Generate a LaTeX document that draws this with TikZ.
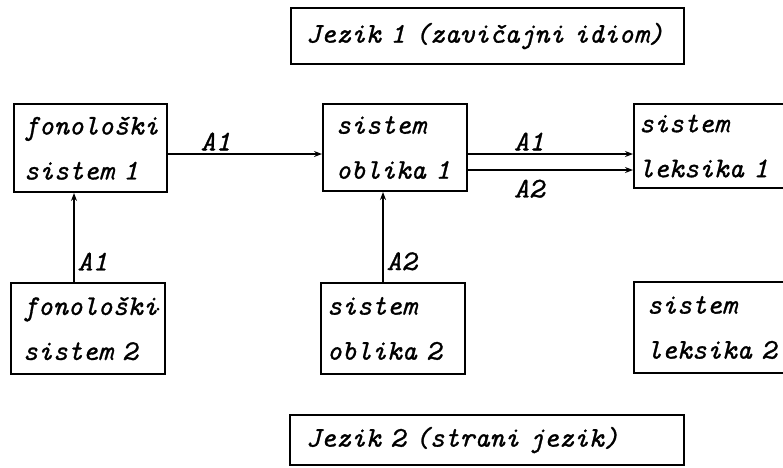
\documentclass[tikz,border=0pt]{standalone}
\usetikzlibrary{arrows.meta}
% typewriter italic, slightly heavier strokes
\font\twfont="[lmmono10-italic.otf]:embolden=1.0" at 28.5pt
\newcommand\boxfont{\twfont\baselineskip=45pt\relax}
\tikzset{
  box/.style={draw, line width=2pt, rectangle, anchor=north west, align=left,
    inner ysep=0pt, font=\boxfont},
  arr/.style={-{Stealth[length=8pt,width=6pt]}, line width=1.3pt},
  lab/.style={font=\boxfont, inner sep=1pt}
}
\begin{document}
\begin{tikzpicture}[x=1pt,y=-1pt]
\useasboundingbox (0,0) rectangle (783,467);
\clip (0,0) rectangle (783,467);

% language headings
\node[box, minimum width=393pt, minimum height=56pt, inner xsep=15pt, text width=363pt]
  (j1) at (290,7) {Jezik 1 (zavičajni idiom)};
\node[box, minimum width=394pt, minimum height=50pt, inner xsep=16pt, text width=362pt]
  (j2) at (289,414) {Jezik 2 (strani jezik)};

% systems of language 1
\node[box, minimum width=153pt, minimum height=88pt, inner xsep=10pt, text width=133pt]
  (fon1) at (13,103) {fonološki\\sistem 1};
\node[box, minimum width=144pt, minimum height=87pt, inner xsep=13pt, text width=118pt]
  (obl1) at (322,103) {sistem\\oblika 1};
\node[box, minimum width=167pt, minimum height=84pt, inner xsep=5pt, text width=157pt]
  (lek1) at (633,103) {sistem\\leksika 1};

% systems of language 2
\node[box, minimum width=154pt, minimum height=91pt, inner xsep=12pt, text width=130pt]
  (fon2) at (10,282) {fonološki\\sistem 2};
\node[box, minimum width=144pt, minimum height=91pt, inner xsep=6pt, text width=132pt]
  (obl2) at (320,282) {sistem\\oblika 2};
\node[box, minimum width=167pt, minimum height=91pt, inner xsep=13pt, text width=141pt]
  (lek2) at (633,281) {sistem\\leksika 2};

\fill (158,309) circle (1.5pt);

% horizontal connections
\draw[arr] ([yshift=-6pt]fon1.east) coordinate (f1e)
  -- node[lab, above=2pt, pos=0.31] (la) {A1} (f1e -| obl1.west);
\draw[arr] ([yshift=-6.5pt]obl1.east) coordinate (o1a)
  -- node[lab, above=2pt, pos=0.37] (lb) {A1} (o1a -| lek1.west);
\draw[arr] ([yshift=-22.5pt]obl1.east) coordinate (o1b)
  -- node[lab, below=8pt, pos=0.37] (lc) {A2} (o1b -| lek1.west);

% vertical connections
\draw[arr] ([xshift=-14pt]fon2.north) coordinate (f2n)
  -- node[lab, right=2pt, pos=0.23] (ld) {A1} (f2n |- fon1.south);
\draw[arr] ([xshift=-10pt]obl2.north) coordinate (o2n)
  -- node[lab, right=2pt, pos=0.23] (le) {A2} (o2n |- obl1.south);
\end{tikzpicture}
\end{document}
